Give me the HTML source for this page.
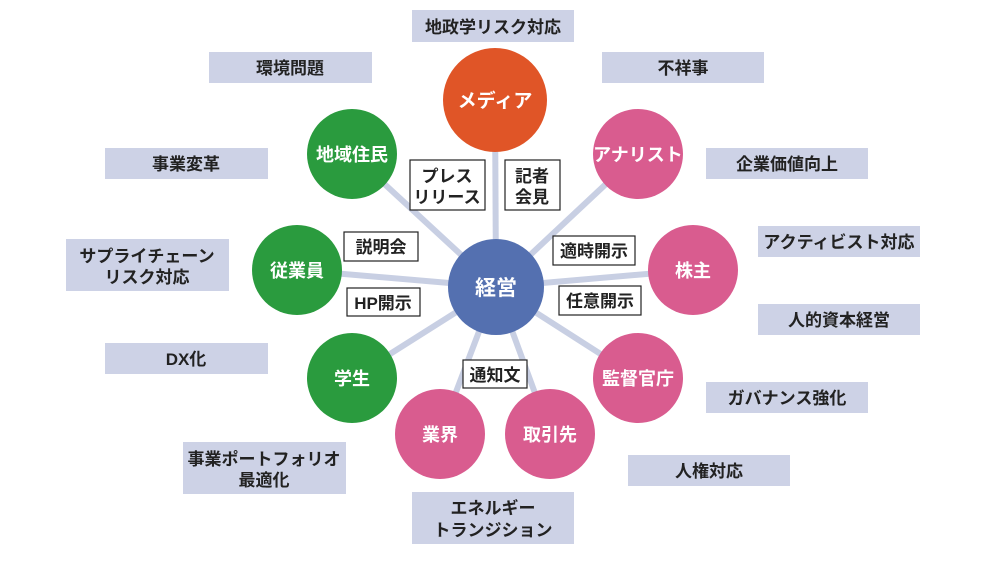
<!DOCTYPE html>
<html><head><meta charset="utf-8"><style>
html,body{margin:0;padding:0;background:#fff;}
svg{display:block;}
text{font-family:"Liberation Sans","Noto Sans CJK JP",sans-serif;font-weight:bold;}
</style></head><body>
<svg width="995" height="568" viewBox="0 0 995 568" xmlns="http://www.w3.org/2000/svg">
<g stroke="#c8cfe3" stroke-width="6">
<line x1="496" y1="287" x2="495" y2="100"/>
<line x1="496" y1="287" x2="352" y2="154"/>
<line x1="496" y1="287" x2="638" y2="154"/>
<line x1="496" y1="287" x2="297" y2="270"/>
<line x1="496" y1="287" x2="693" y2="270"/>
<line x1="496" y1="287" x2="352" y2="378"/>
<line x1="496" y1="287" x2="638" y2="378"/>
<line x1="496" y1="287" x2="440" y2="434"/>
<line x1="496" y1="287" x2="550" y2="434"/>
</g>
<g fill="#cdd2e6">
<rect x="412" y="10" width="162" height="32"/>
<rect x="209" y="52" width="163" height="31"/>
<rect x="602" y="52" width="162" height="31"/>
<rect x="105" y="148" width="163" height="31"/>
<rect x="706" y="148" width="162" height="31"/>
<rect x="66" y="239" width="163" height="52"/>
<rect x="758" y="226" width="162" height="31"/>
<rect x="758" y="304" width="162" height="31"/>
<rect x="105" y="343" width="163" height="31"/>
<rect x="706" y="382" width="162" height="31"/>
<rect x="183" y="442" width="163" height="52"/>
<rect x="628" y="455" width="162" height="31"/>
<rect x="412" y="492" width="162" height="52"/>
</g>
<g font-size="17" fill="#222" text-anchor="middle">
<text x="493" y="33">地政学リスク対応</text>
<text x="290" y="74">環境問題</text>
<text x="683" y="74">不祥事</text>
<text x="186" y="170">事業変革</text>
<text x="787" y="170">企業価値向上</text>
<text x="147" y="262">サプライチェーン</text>
<text x="147" y="283">リスク対応</text>
<text x="839" y="248">アクティビスト対応</text>
<text x="839" y="326">人的資本経営</text>
<text x="186" y="365">DX化</text>
<text x="787" y="404">ガバナンス強化</text>
<text x="264" y="465">事業ポートフォリオ</text>
<text x="264" y="486">最適化</text>
<text x="709" y="477">人権対応</text>
<text x="493" y="514">エネルギー</text>
<text x="493" y="536">トランジション</text>
</g>
<circle cx="495" cy="100" r="52" fill="#e05527"/>
<g fill="#2a9b3e"><circle cx="352" cy="154" r="45"/><circle cx="297" cy="270" r="45"/><circle cx="352" cy="378" r="45"/></g>
<g fill="#d95c8f"><circle cx="638" cy="154" r="45"/><circle cx="693" cy="270" r="45"/><circle cx="638" cy="378" r="45"/><circle cx="440" cy="434" r="45"/><circle cx="550" cy="434" r="45"/></g>
<circle cx="496" cy="287" r="48" fill="#5470b0"/>
<g font-size="18" fill="#fff" text-anchor="middle">
<text x="495" y="107" font-size="19">メディア</text>
<text x="352" y="161">地域住民</text>
<text x="638" y="161">アナリスト</text>
<text x="297" y="277">従業員</text>
<text x="693" y="277">株主</text>
<text x="352" y="385">学生</text>
<text x="638" y="385">監督官庁</text>
<text x="440" y="441">業界</text>
<text x="550" y="441">取引先</text>
<text x="496" y="295" font-size="21">経営</text>
</g>
<g fill="#fff" stroke="#222" stroke-width="1.2">
<rect x="410" y="160" width="75" height="50"/>
<rect x="505" y="160" width="55" height="50"/>
<rect x="344" y="232" width="74" height="29"/>
<rect x="553" y="236" width="82" height="29"/>
<rect x="347" y="288" width="73" height="28"/>
<rect x="559" y="286" width="82" height="29"/>
<rect x="463" y="360" width="64" height="28"/>
</g>
<g font-size="17" fill="#222" text-anchor="middle">
<text x="447" y="182">プレス</text>
<text x="447" y="203">リリース</text>
<text x="532" y="182">記者</text>
<text x="532" y="203">会見</text>
<text x="381" y="253">説明会</text>
<text x="594" y="257">適時開示</text>
<text x="383" y="309">HP開示</text>
<text x="600" y="307">任意開示</text>
<text x="495" y="381">通知文</text>
</g>
</svg>
</body></html>
